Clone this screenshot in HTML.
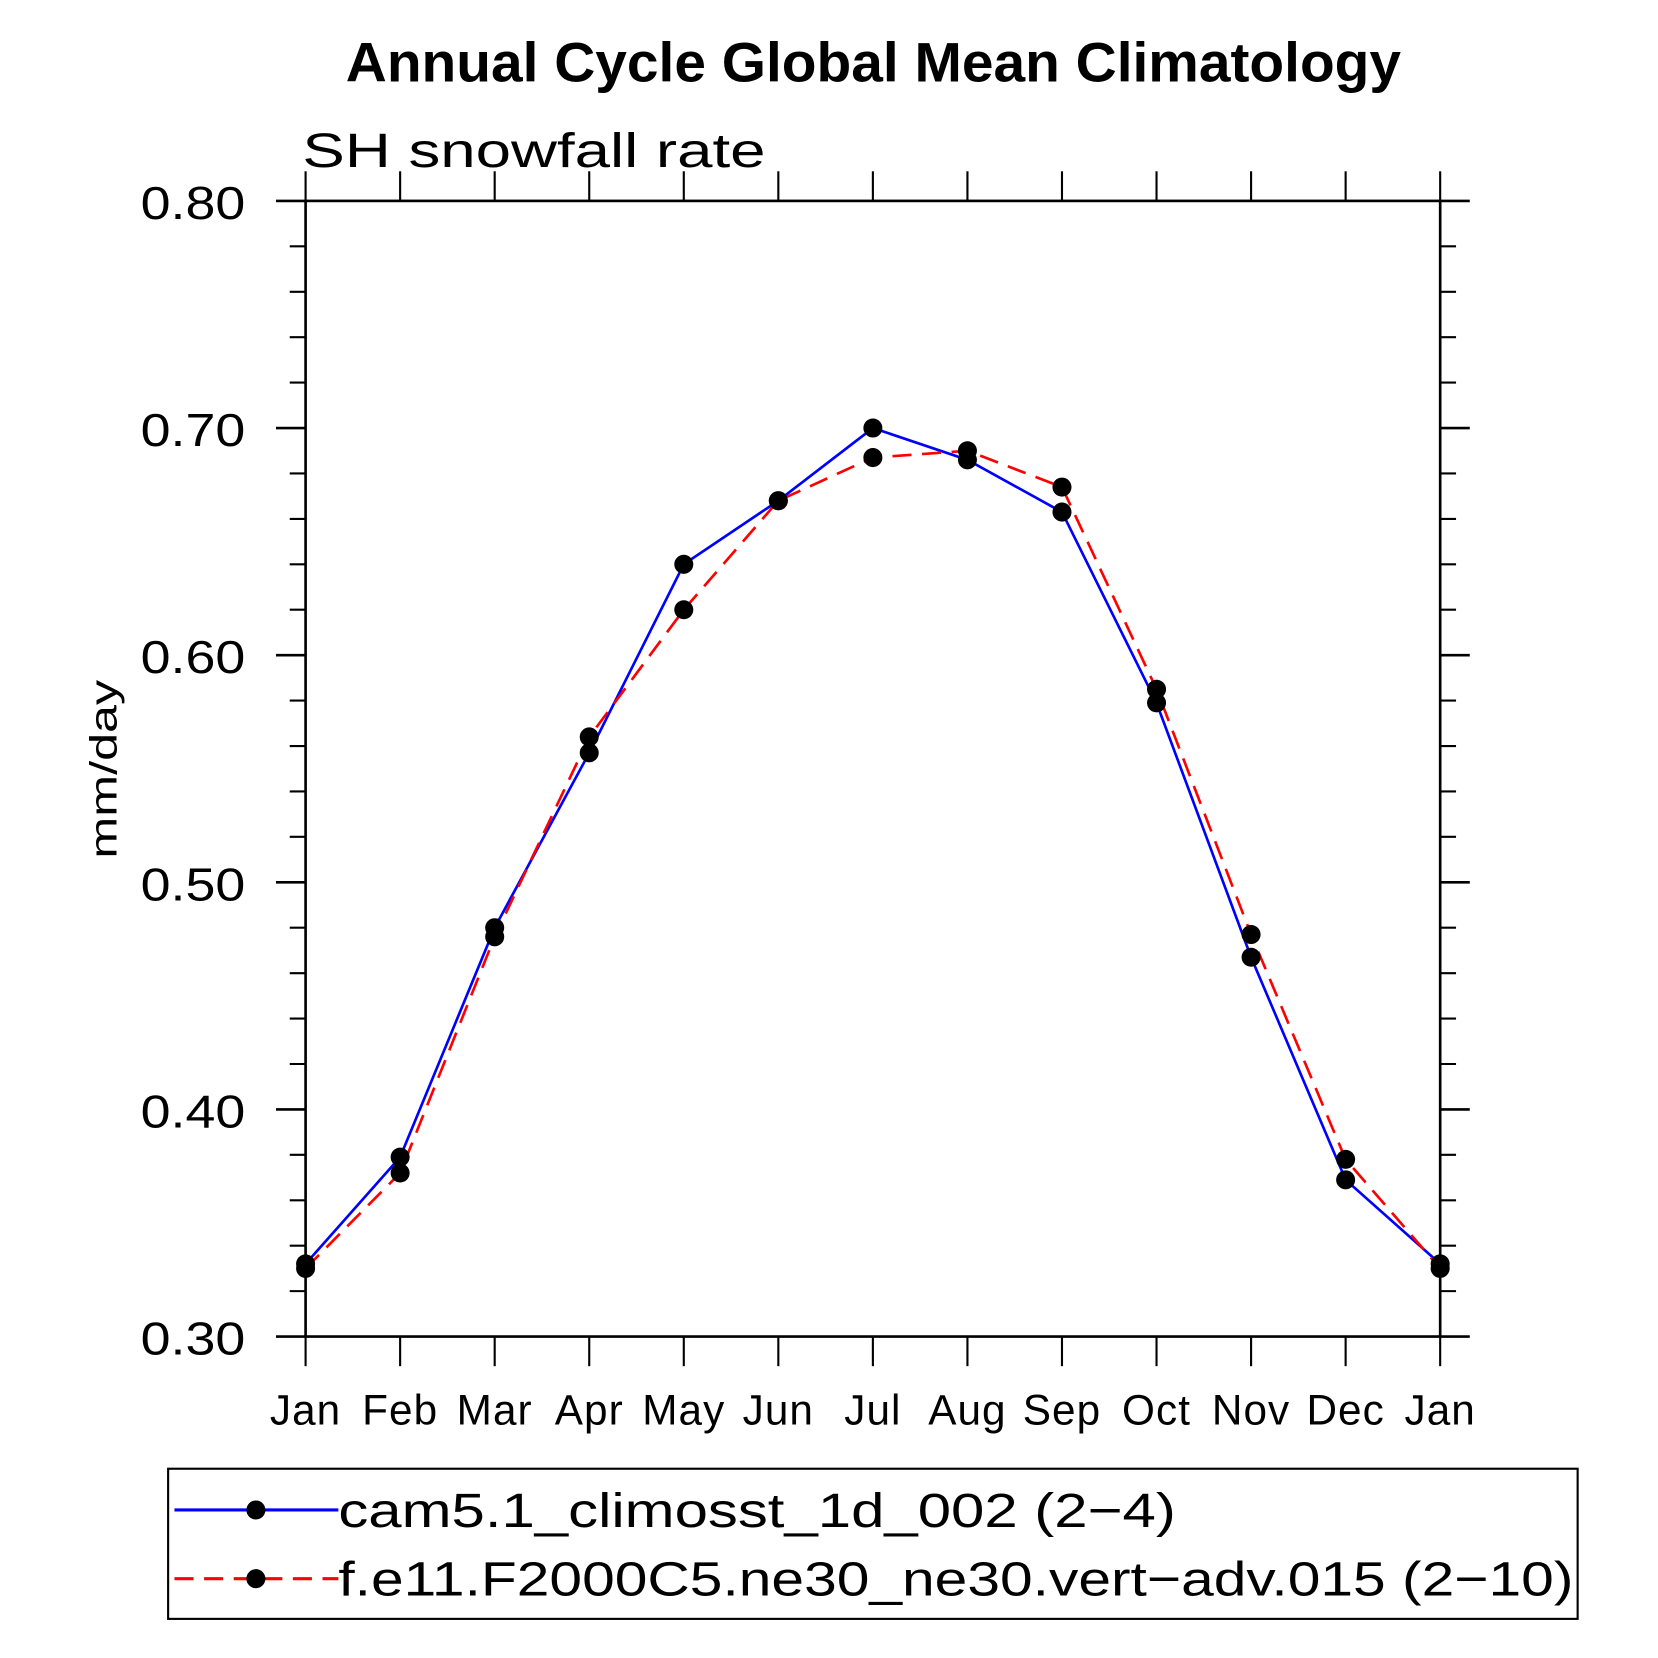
<!DOCTYPE html>
<html><head><meta charset="utf-8"><style>
html,body{margin:0;padding:0;background:#fff;}
svg{display:block;}
text{font-family:"Liberation Sans","DejaVu Sans",sans-serif;}
</style></head><body>
<svg id="chart" width="1658" height="1658" viewBox="0 0 1568 1568" xmlns="http://www.w3.org/2000/svg">
<text x="327" y="77" textLength="998" lengthAdjust="spacingAndGlyphs" font-size="53" font-weight="bold">Annual Cycle Global Mean Climatology</text>
<text x="286" y="158" textLength="438" lengthAdjust="spacingAndGlyphs" font-size="46" font-weight="300" fill="#000">SH snowfall rate</text>
<text transform="translate(110,812) rotate(-90)" textLength="169" lengthAdjust="spacingAndGlyphs" font-size="36" font-weight="300">mm/day</text>
<g id="axes"></g>
<g id="series"></g>
<g id="legend">
<rect x="159" y="1389" width="1333" height="142" fill="none" stroke="#000" stroke-width="2"/>
<g>
<line x1="165" y1="1428" x2="320" y2="1428" stroke="#0000ff" stroke-width="3"/>
<circle cx="242" cy="1428" r="9" fill="#000"/>
<text x="320" y="1444" textLength="792" lengthAdjust="spacingAndGlyphs" font-size="46" font-weight="300">cam5.1_climosst_1d_002 (2−4)</text>
</g>
<g>
<line x1="165" y1="1493" x2="320" y2="1493" stroke="#ff0000" stroke-width="3" stroke-dasharray="18,10"/>
<circle cx="242" cy="1493" r="9" fill="#000"/>
<text x="320" y="1509" textLength="1168" lengthAdjust="spacingAndGlyphs" font-size="46" font-weight="300">f.e11.F2000C5.ne30_ne30.vert−adv.015 (2−10)</text>
</g>
</g>
</svg>
<script>
const months = ["Jan","Feb","Mar","Apr","May","Jun","Jul","Aug","Sep","Oct","Nov","Dec","Jan"];
const cam5Values = [0.332,0.379,0.480,0.557,0.640,0.668,0.700,0.686,0.663,0.579,0.467,0.369,0.332];
const vertAdvValues = [0.330,0.372,0.476,0.564,0.620,0.668,0.687,0.690,0.674,0.585,0.477,0.378,0.330];
const yTickLabels = ["0.30","0.40","0.50","0.60","0.70","0.80"];
const yMin = 0.3, yMax = 0.8;
const L=289,R=1362,T=190,B=1264;
const NS="http://www.w3.org/2000/svg";
function xs(i){return L+(R-L)*i/(months.length-1);}
function ys(v){return B-(v-yMin)/(yMax-yMin)*(B-T);}
function mk(tag,attrs,parent){const e=document.createElementNS(NS,tag);for(const k in attrs)e.setAttribute(k,attrs[k]);parent.appendChild(e);return e;}
const ax=document.getElementById('axes');
months.forEach((m,i)=>{
  const x=xs(i);
  const t1=mk('line',{x1:x,y1:B,x2:x,y2:B+28,stroke:'#000','stroke-width':2},ax);
  
  
  const t2=mk('line',{x1:x,y1:T,x2:x,y2:T-28,stroke:'#000','stroke-width':2},ax);
  
  
  const lb=mk('text',{x:x,y:B+83,'text-anchor':'middle','font-size':40,'font-weight':300,'letter-spacing':1},ax);
  lb.textContent=m;
  
  
});
yTickLabels.forEach(s=>{
  const v=parseFloat(s),y=ys(v);
  const a=mk('line',{x1:L-28,y1:y,x2:L,y2:y,stroke:'#000','stroke-width':2.5},ax);
  
  
  const b=mk('line',{x1:R,y1:y,x2:R+28,y2:y,stroke:'#000','stroke-width':2.5},ax);
  
  
  const lb=mk('text',{x:133,y:y+17,textLength:99,lengthAdjust:'spacingAndGlyphs','font-size':44,'font-weight':300},ax);
  lb.textContent=s;
  
  
});
const frame=mk('rect',{x:L,y:T,width:R-L,height:B-T,fill:'none',stroke:'#000','stroke-width':2.5},ax);


for(let k=1;k<25;k++){
  if(k%5===0) continue;
  const v=yMin+k*0.02;
  const y=ys(v);
  const a=mk('line',{x1:L-15,y1:y,x2:L,y2:y,stroke:'#000','stroke-width':2},ax);
  
  
  const b=mk('line',{x1:R,y1:y,x2:R+15,y2:y,stroke:'#000','stroke-width':2},ax);
  
  
}
const sg=document.getElementById('series');
function draw(vals,color,dash,name){
  const pts=vals.map((v,i)=>xs(i)+','+ys(v)).join(' ');
  const pl=mk('polyline',{points:pts,fill:'none',stroke:color,'stroke-width':2.5,'stroke-dasharray':dash},sg);
  
  
}
draw(cam5Values,'#0000ff','none','cam5');
draw(vertAdvValues,'#ff0000','18,10','vert-adv');
[[cam5Values,'cam5'],[vertAdvValues,'vert-adv']].forEach(([vals,n])=>{
  vals.forEach((v,i)=>{
    const c=mk('circle',{cx:xs(i),cy:ys(v),r:9,fill:'#000'},sg);
    
    
  });
});
</script>
</body></html>
